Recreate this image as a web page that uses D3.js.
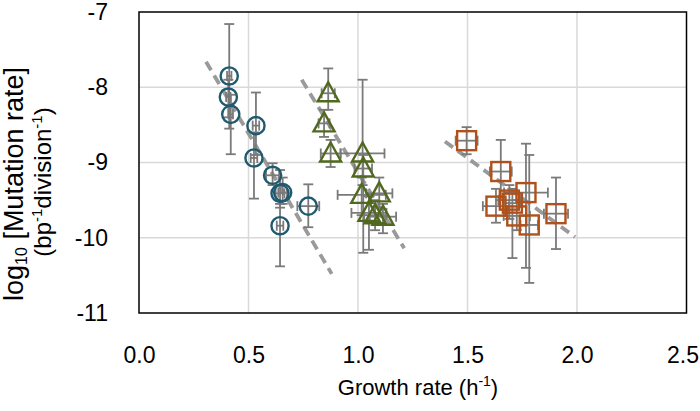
<!DOCTYPE html>
<html><head><meta charset="utf-8">
<script src="https://cdn.jsdelivr.net/npm/d3@7"></script>
<style>body{margin:0;background:#fff}svg{display:block;font-family:"Liberation Sans",Arial,sans-serif}</style>
</head><body>
<svg id="c" width="700" height="411"></svg>
<script>
// Circles series
const circX  = [0.412, 0.408, 0.419, 0.534, 0.525, 0.610, 0.644, 0.656, 0.644, 0.773];
const circY  = [-7.85, -8.13, -8.36, -8.51, -8.94, -9.17, -9.41, -9.40, -9.84, -9.58];
const circXe = [0.010, 0.010, 0.010, 0.015, 0.015, 0.030, 0.020, 0.020, 0.015, 0.050];
const circHi = [-7.16, -7.90, -8.10, -8.07, -8.60, -9.01, -9.10, -9.20, -9.55, -9.29];
const circLo = [-8.55, -8.40, -8.89, -8.90, -9.48, -9.30, -9.60, -9.55, -10.38, -9.86];
// Triangles series
const triX  = [0.864, 0.845, 0.875, 1.021, 1.024, 1.017, 1.097, 1.050, 1.078, 1.114];
const triY  = [-8.08, -8.48, -8.88, -8.88, -9.08, -9.43, -9.41, -9.67, -9.70, -9.72];
const triXe = [0.030, 0.025, 0.045, 0.100, 0.040, 0.110, 0.060, 0.080, 0.050, 0.060];
const triHi = [-7.75, -8.30, -8.70, -7.90, -8.90, -9.20, -9.20, -9.45, -9.50, -9.55];
const triLo = [-8.30, -8.66, -9.06, -9.30, -10.20, -9.70, -9.60, -10.16, -9.90, -9.94];
// Squares series
const sqX  = [1.496, 1.652, 1.630, 1.691, 1.705, 1.767, 1.725, 1.782, 1.904];
const sqY  = [-8.71, -9.12, -9.58, -9.50, -9.54, -9.40, -9.71, -9.83, -9.68];
const sqXe = [0.050, 0.050, 0.060, 0.050, 0.040, 0.100, 0.060, 0.040, 0.055];
const sqHi = [-8.53, -8.70, -9.35, -9.30, -9.35, -8.75, -9.50, -8.90, -9.20];
const sqLo = [-8.89, -9.50, -9.80, -9.75, -10.27, -10.40, -9.90, -10.60, -10.15];
// Fit lines [x1, y1, x2, y2]
const fitCirc = [0.306, -7.66, 0.880, -10.48];
const fitTri  = [0.743, -7.90, 1.211, -10.14];
const fitSq   = [1.397, -8.72, 1.991, -9.99];
// Ticks
const xTicks = [0, 0.5, 1.0, 1.5, 2.0, 2.5];
const yTicks = [-7, -8, -9, -10, -11];

const svg = d3.select("#c");
const L = 139, R = 686.5, T = 12, B = 313;
const x = d3.scaleLinear().domain([0, 2.5]).range([L, R]);
const y = d3.scaleLinear().domain([-11, -7]).range([B, T]);

// gridlines
svg.append("g").selectAll("line").data(xTicks.slice(1, -1)).join("line")
  .attr("x1", d => x(d)).attr("x2", d => x(d)).attr("y1", T).attr("y2", B)
  .attr("stroke", "#d9d9d9").attr("stroke-width", 1.5);
svg.append("g").selectAll("line").data(yTicks.slice(1, -1)).join("line")
  .attr("y1", d => y(d)).attr("y2", d => y(d)).attr("x1", L).attr("x2", R)
  .attr("stroke", "#d9d9d9").attr("stroke-width", 1.5);

// axes (labels only)
const xAxis = d3.axisBottom(x).tickValues(xTicks).tickFormat(d3.format(".1f")).tickSize(0).tickPadding(34);
const gx = svg.append("g").attr("transform", `translate(0,${B})`).call(xAxis);
gx.select(".domain").remove();
gx.selectAll("text").attr("font-size", 23).attr("fill", "#000").attr("font-family", "Liberation Sans, Arial, sans-serif");
gx.selectAll("text").filter(d => d === 2.5).attr("text-anchor", "end").attr("dx", "12");
const yAxis = d3.axisLeft(y).tickValues(yTicks).tickFormat(d => d3.format("d")(d).replace("−", "-")).tickSize(0).tickPadding(31);
const gy = svg.append("g").attr("transform", `translate(${L},0)`).call(yAxis);
gy.select(".domain").remove();
gy.selectAll("text").attr("font-size", 23).attr("fill", "#000").attr("font-family", "Liberation Sans, Arial, sans-serif");

// frame
svg.append("rect").attr("x", L).attr("y", T).attr("width", R - L).attr("height", B - T)
  .attr("fill", "none").attr("stroke", "#000").attr("stroke-width", 1.5);

// fit lines
[fitCirc, fitTri, fitSq].forEach(f => {
  svg.append("line").attr("x1", x(f[0])).attr("y1", y(f[1])).attr("x2", x(f[2])).attr("y2", y(f[3]))
    .attr("stroke", "#9a9a9a").attr("stroke-width", 3.8).attr("stroke-dasharray", "10,6");
});

function series(xs, ys, xe, hi, lo, shape, color) {
  const data = xs.map((v, i) => ({x: v, y: ys[i], xe: xe[i], hi: hi[i], lo: lo[i]}));
  const g = svg.append("g");
  const eb = g.append("g").attr("stroke", "#7a7a7a").attr("stroke-width", 1.8).attr("fill", "none");
  const cap = 5;
  data.forEach(d => {
    eb.append("line").attr("x1", x(d.x)).attr("x2", x(d.x)).attr("y1", y(d.hi)).attr("y2", y(d.lo));
    eb.append("line").attr("x1", x(d.x) - cap).attr("x2", x(d.x) + cap).attr("y1", y(d.hi)).attr("y2", y(d.hi));
    eb.append("line").attr("x1", x(d.x) - cap).attr("x2", x(d.x) + cap).attr("y1", y(d.lo)).attr("y2", y(d.lo));
    eb.append("line").attr("x1", x(d.x - d.xe)).attr("x2", x(d.x + d.xe)).attr("y1", y(d.y)).attr("y2", y(d.y));
    eb.append("line").attr("x1", x(d.x - d.xe)).attr("x2", x(d.x - d.xe)).attr("y1", y(d.y) - cap).attr("y2", y(d.y) + cap);
    eb.append("line").attr("x1", x(d.x + d.xe)).attr("x2", x(d.x + d.xe)).attr("y1", y(d.y) - cap).attr("y2", y(d.y) + cap);
  });
  const m = g.append("g").attr("fill", "none").attr("stroke", color).attr("stroke-width", 2.4);
  data.forEach(d => {
    const cx = x(d.x), cy = y(d.y);
    if (shape === "circle") {
      m.append("circle").attr("cx", cx).attr("cy", cy).attr("r", 8.6);
    } else if (shape === "square") {
      m.append("rect").attr("x", cx - 9.5).attr("y", cy - 9.5).attr("width", 19).attr("height", 19);
    } else {
      m.append("path").attr("d", `M${cx},${cy - 11}L${cx + 10.5},${cy + 8}L${cx - 10.5},${cy + 8}Z`);
    }
  });
}
series(circX, circY, circXe, circHi, circLo, "circle", "#1f5a6e");
series(triX, triY, triXe, triHi, triLo, "triangle", "#51691f");
series(sqX, sqY, sqXe, sqHi, sqLo, "square", "#b0501a");

// axis titles
const xt = svg.append("text").attr("x", 418).attr("y", 395).attr("text-anchor", "middle")
  .attr("font-size", 22).attr("fill", "#000");
xt.append("tspan").text("Growth rate (h");
xt.append("tspan").attr("font-size", 14).attr("dy", -9).text("-1");
xt.append("tspan").attr("dy", 9).text(")");

const yt1 = svg.append("text").attr("transform", `translate(23,184) rotate(-90)`)
  .attr("text-anchor", "middle").attr("font-size", 27).attr("fill", "#000");
yt1.append("tspan").text("log");
yt1.append("tspan").attr("font-size", 16).attr("dy", 4).text("10");
yt1.append("tspan").attr("dy", -4).text(" [Mutation rate]");

const yt2 = svg.append("text").attr("transform", `translate(51,182) rotate(-90)`)
  .attr("text-anchor", "middle").attr("font-size", 24).attr("fill", "#000");
yt2.append("tspan").text("(bp");
yt2.append("tspan").attr("font-size", 15).attr("dy", -9).text("-1");
yt2.append("tspan").attr("dy", 9).text("division");
yt2.append("tspan").attr("font-size", 15).attr("dy", -9).text("-1");
yt2.append("tspan").attr("dy", 9).text(")");
</script>
</body></html>
